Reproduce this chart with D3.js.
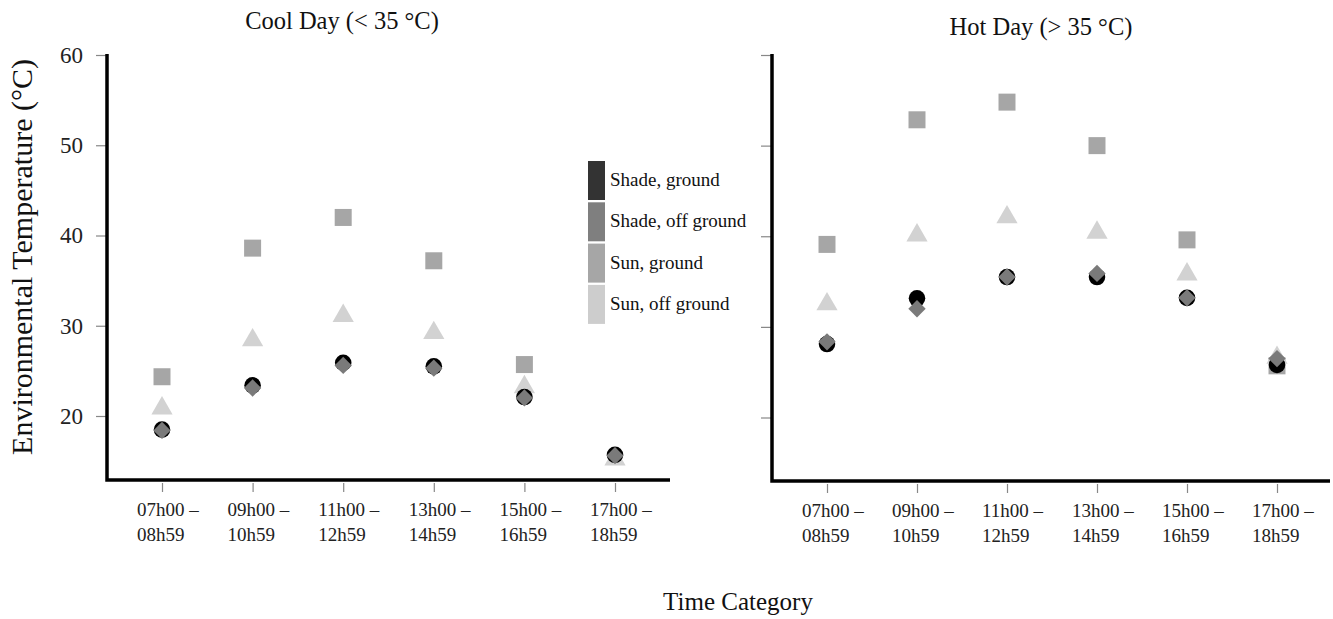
<!DOCTYPE html>
<html>
<head>
<meta charset="utf-8">
<script src="https://cdn.jsdelivr.net/npm/d3@7"></script>
<style>
  html, body { margin: 0; padding: 0; background: #fff; }
  svg { display: block; font-family: "Liberation Serif", "Times New Roman", serif; }
</style>
</head>
<body>
<svg id="chart" width="1333" height="619"></svg>
<script>
// ---- data ----
const categories = ["07h00-08h59", "09h00-10h59", "11h00-12h59", "13h00-14h59", "15h00-16h59", "17h00-18h59"];
const tickLine1 = ["07h00 \u2013", "09h00 \u2013", "11h00 \u2013", "13h00 \u2013", "15h00 \u2013", "17h00 \u2013"];
const tickLine2 = ["08h59", "10h59", "12h59", "14h59", "16h59", "18h59"];
const yTicks = [20, 30, 40, 50, 60];
const seriesNames = ["Shade, ground", "Shade, off ground", "Sun, ground", "Sun, off ground"];
const panelTitles = ["Cool Day (< 35 \u00B0C)", "Hot Day (> 35 \u00B0C)"];

// Cool day
const coolShadeGround = [18.5, 23.4, 25.9, 25.5, 22.1, 15.7];
const coolShadeOff    = [18.4, 23.1, 25.6, 25.3, 22.0, 15.6];
const coolSunGround   = [24.35, 38.6, 42.0, 37.2, 25.7, null];
const coolSunOff      = [20.85, 28.4, 31.1, 29.2, 23.2, 15.2];
// Hot day
const hotShadeGround = [28.1, 33.15, 35.5, 35.5, 33.2, 25.8];
const hotShadeOff    = [28.35, 32.0, 35.5, 35.9, 33.2, 26.5];
const hotSunGround   = [39.1, 52.85, 54.8, 50.0, 39.6, 25.7];
const hotSunOff      = [32.5, 40.1, 42.1, 40.4, 35.8, 26.6];

// ---- styles ----
const markColors  = { "Shade, ground": "#000000", "Shade, off ground": "#7a7a7a", "Sun, ground": "#a6a6a6", "Sun, off ground": "#d2d2d2" };
const legendColors = ["#333333", "#7f7f7f", "#a6a6a6", "#cdcdcd"];
const symbolTypes = {
  "Shade, ground": { type: d3.symbolCircle, size: 215, rot: 0 },
  "Shade, off ground": { type: d3.symbolSquare, size: 150, rot: 45 },
  "Sun, ground": { type: d3.symbolSquare, size: 289, rot: 0 },
  "Sun, off ground": { type: d3.symbolTriangle, size: 195, rot: 0 }
};
const drawOrder = ["Sun, ground", "Sun, off ground", "Shade, ground", "Shade, off ground"];

const svg = d3.select("#chart");

const panels = [
  { title: panelTitles[0], titleX: 342, titleY: 29, axisX: 107, xRange: [162, 615], xEnd: 670, yRange: [416, 55], axisY: 480, showLabels: true,
    series: { "Shade, ground": coolShadeGround, "Shade, off ground": coolShadeOff, "Sun, ground": coolSunGround, "Sun, off ground": coolSunOff } },
  { title: panelTitles[1], titleX: 1041, titleY: 35, axisX: 772, xRange: [827, 1277], xEnd: 1330, yRange: [417.5, 55], axisY: 481, showLabels: false,
    series: { "Shade, ground": hotShadeGround, "Shade, off ground": hotShadeOff, "Sun, ground": hotSunGround, "Sun, off ground": hotSunOff } }
];

panels.forEach(p => {
  const x = d3.scalePoint().domain(categories).range(p.xRange);
  const y = d3.scaleLinear().domain([20, 60]).range(p.yRange);
  const g = svg.append("g");

  // title
  g.append("text").attr("x", p.titleX).attr("y", p.titleY).attr("text-anchor", "middle")
    .attr("font-size", 24.5).attr("fill", "#111").text(p.title);

  // y axis ticks
  const yAxis = d3.axisLeft(y).tickValues(yTicks).tickSize(10).tickPadding(13)
    .tickFormat(p.showLabels ? d3.format("d") : () => "");
  const ya = g.append("g").attr("transform", `translate(${p.axisX - 1},0)`).call(yAxis);
  ya.select(".domain").remove();
  ya.selectAll(".tick line").attr("stroke", "#888").attr("stroke-width", 1.2);
  ya.selectAll(".tick text").attr("font-size", 23).attr("fill", "#222")
    .attr("font-family", "Liberation Serif, serif");

  // x axis ticks
  const xAxis = d3.axisBottom(x).tickSize(9).tickFormat(() => "");
  const xa = g.append("g").attr("transform", `translate(0,${p.axisY + 3})`).call(xAxis);
  xa.select(".domain").remove();
  xa.selectAll(".tick line").attr("stroke", "#888").attr("stroke-width", 1.2);

  // x tick labels (two lines)
  categories.forEach((c, i) => {
    const t = g.append("text").attr("x", x(c) - 25).attr("y", p.axisY + 36)
      .attr("font-size", 19).attr("fill", "#222");
    t.append("tspan").attr("x", x(c) - 25).text(tickLine1[i]);
    t.append("tspan").attr("x", x(c) - 25).attr("dy", 25).text(tickLine2[i]);
  });

  // axis lines
  g.append("path")
    .attr("d", `M${p.axisX},${y(60) - 1}V${p.axisY}H${p.xEnd}`)
    .attr("fill", "none").attr("stroke", "#000").attr("stroke-width", 3.5);

  // points
  drawOrder.forEach(name => {
    const s = symbolTypes[name];
    const vals = p.series[name];
    const pts = categories.map((c, i) => ({ c, v: vals[i] })).filter(d => d.v != null);
    g.append("g").selectAll("path").data(pts).join("path")
      .attr("d", d3.symbol().type(s.type).size(s.size))
      .attr("transform", d => `translate(${x(d.c)},${y(d.v)}) rotate(${s.rot})`)
      .attr("fill", markColors[name]);
  });
});

// legend
const legend = svg.append("g");
seriesNames.forEach((n, i) => {
  const top = 161 + i * 41.3;
  legend.append("rect").attr("x", 588).attr("y", top).attr("width", 17).attr("height", 39)
    .attr("fill", legendColors[i]);
  legend.append("text").attr("x", 610).attr("y", top + 25).attr("font-size", 19)
    .attr("fill", "#111").text(n);
});

// axis titles
svg.append("text").attr("transform", "translate(32,257) rotate(-90)").attr("text-anchor", "middle")
  .attr("font-size", 30).attr("fill", "#111").text("Environmental Temperature (\u00B0C)");
svg.append("text").attr("x", 738).attr("y", 610).attr("text-anchor", "middle")
  .attr("font-size", 25).attr("fill", "#111").text("Time Category");
</script>
</body>
</html>
